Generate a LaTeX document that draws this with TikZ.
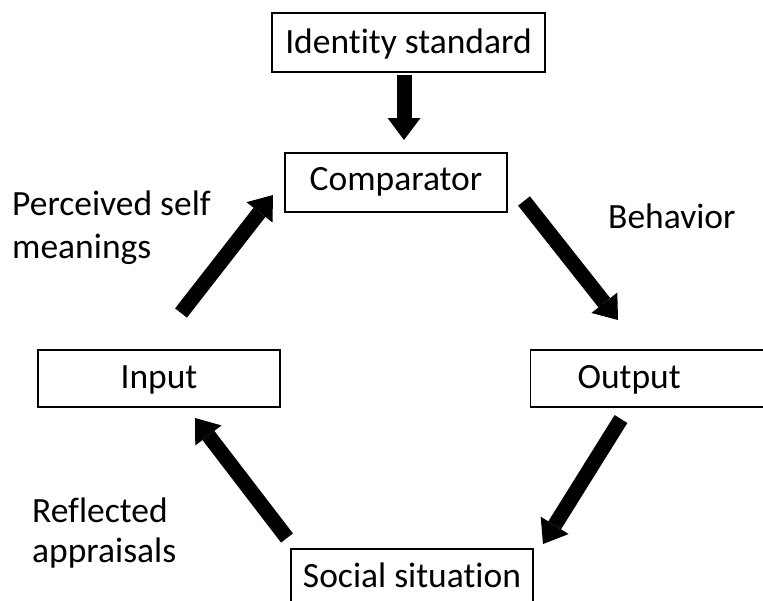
\documentclass[tikz,border=0pt]{standalone}
\usepackage{fontspec}
\setmainfont{Carlito}[Ligatures=NoCommon]
\usetikzlibrary{arrows.meta}
\begin{document}
\begin{tikzpicture}[x=1pt,y=-1pt,
  txt/.style={font=\fontsize{35.5pt}{42pt}\selectfont, inner sep=0pt},
  box/.style={draw, line width=1.1pt, inner xsep=0pt, inner ysep=0pt,
    font=\fontsize{35.5pt}{42pt}\selectfont},
  bigarrow/.style={line width=15pt, -{Triangle[width=33pt,length=22pt,line width=0pt]}}]
\useasboundingbox (0,0) rectangle (763,600);
% boxes
\node[box, minimum width=273pt, minimum height=59pt, text height=26pt, text depth=5pt] (ident) at (408.5,42.5) {Identity standard};
\node[box, minimum width=222pt, minimum height=59pt, text height=24pt, text depth=9pt] (comp) at (396,182.5) {Comparator};
\node[box, minimum width=242pt, minimum height=57pt, text height=26pt, text depth=7pt] (input) at (159,378.5) {Input};
\node[box, anchor=west, inner xsep=47pt, text width=200pt, align=left, minimum height=57pt, text height=26pt, text depth=7pt] (output) at (530,378.5) {Output};
\node[box, minimum width=242pt, minimum height=60pt, text height=24pt, text depth=8pt] (social) at (412,579) {Social situation};
% labels
\node[txt, anchor=base west] (perc1) at (12,215) {Perceived self};
\node[txt, anchor=base west] (perc2) at (12,258) {meanings};
\node[txt, anchor=base west] (behav) at (608,228) {Behavior};
\node[txt, anchor=base west] (refl1) at (32,522) {Reflected};
\node[txt, anchor=base west] (refl2) at (32,562) {appraisals};
% arrow end points
\coordinate (a1s) at (404,75);  \coordinate (a1e) at (404,140);
\coordinate (a2s) at (524,201); \coordinate (a2e) at (618,320);
\coordinate (a3s) at (621,419); \coordinate (a3e) at (543,544);
\coordinate (a4s) at (287,538); \coordinate (a4e) at (195,418);
\coordinate (a5s) at (181,313); \coordinate (a5e) at (273,195);
\draw[bigarrow] (a1s) -- (a1e);
\draw[bigarrow] (a2s) -- (a2e);
\draw[bigarrow] (a3s) -- (a3e);
\draw[bigarrow] (a4s) -- (a4e);
\draw[bigarrow] (a5s) -- (a5e);
\end{tikzpicture}
\end{document}
